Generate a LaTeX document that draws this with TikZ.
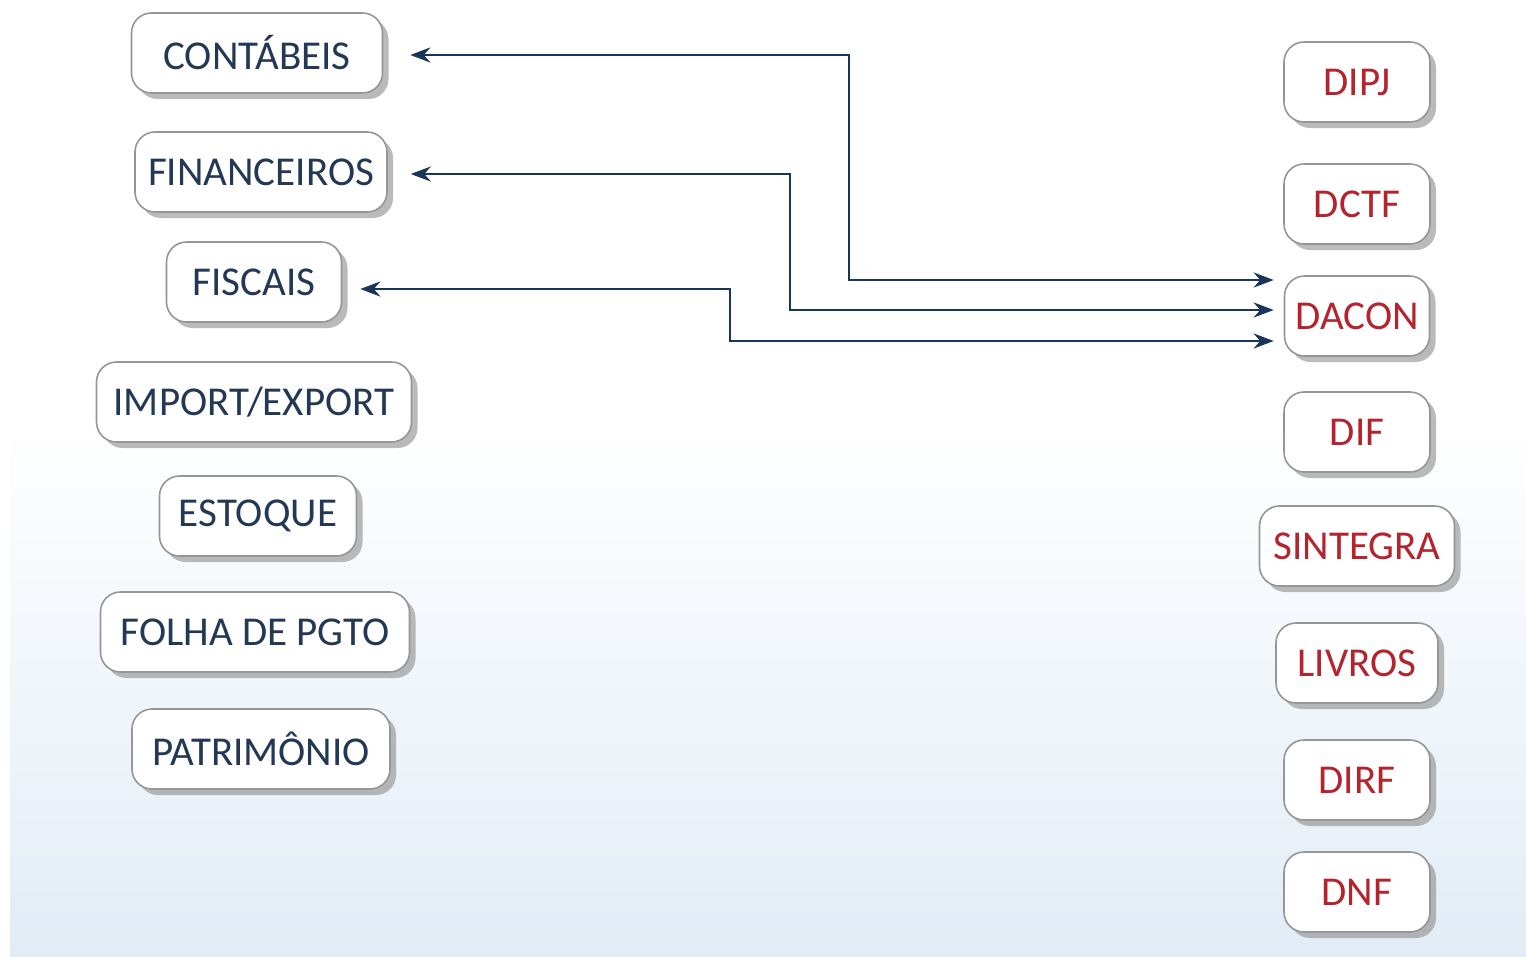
\documentclass[tikz,border=0pt]{standalone}
\usepackage{fontspec}
\setmainfont{Carlito}
\usetikzlibrary{shadows,arrows.meta}
\definecolor{navy}{RGB}{35,56,84}
\definecolor{redtxt}{RGB}{180,36,46}
\definecolor{boxline}{RGB}{150,150,150}
\definecolor{arrowc}{RGB}{24,54,90}
\definecolor{bgblue}{RGB}{226,236,246}
\tikzset{
  box/.style={draw=boxline, line width=1.6pt, fill=white, rounded corners=20pt,
    minimum height=80pt, inner xsep=4pt, font=\fontsize{41}{45}\selectfont,
    drop shadow={shadow xshift=6pt, shadow yshift=-6pt, fill=black!45, opacity=0.6}},
  lbox/.style={box, text=navy},
  rbox/.style={box, text=redtxt},
  conn/.style={draw=arrowc, line width=2.8pt, {Stealth[length=20pt,width=15pt]}-{Stealth[length=20pt,width=15pt]}}
}
\begin{document}
\begin{tikzpicture}[x=1pt,y=-1pt]
\useasboundingbox (0,0) rectangle (1526,956);
\fill[white] (0,0) rectangle (1526,956);
\shade[top color=white, bottom color=bgblue] (10,420) rectangle (1526,956);
% left column
\node[lbox, minimum width=251pt] (con) at (257,53) {CONTÁBEIS};
\node[lbox, minimum width=252pt] (fin) at (261,172) {FINANCEIROS};
\node[lbox, minimum width=175pt] (fis) at (254,282) {FISCAIS};
\node[lbox, minimum width=315pt] (imp) at (254,402) {IMPORT/EXPORT};
\node[lbox, minimum width=197pt] (est) at (258,516) {ESTOQUE};
\node[lbox, minimum width=309pt] (fol) at (255,632) {FOLHA DE PGTO};
\node[lbox, minimum width=258pt] (pat) at (261,749) {PATRIMÔNIO};
% right column
\node[rbox, minimum width=146pt] (dipj) at (1357,82) {DIPJ};
\node[rbox, minimum width=146pt] (dctf) at (1357,204) {DCTF};
\node[rbox, minimum width=145pt] (dac) at (1357,316) {DACON};
\node[rbox, minimum width=146pt] (dif) at (1357,432) {DIF};
\node[rbox, minimum width=195pt] (sin) at (1357,546) {SINTEGRA};
\node[rbox, minimum width=162pt] (liv) at (1357,663) {LIVROS};
\node[rbox, minimum width=146pt] (dirf) at (1357,780) {DIRF};
\node[rbox, minimum width=146pt] (dnf) at (1357,892) {DNF};
% connector corners
\coordinate (k1) at (849,280);
\coordinate (k2) at (790,310);
\coordinate (k3) at (730,341);
\draw[conn] ([xshift=27pt,yshift=-2pt]con.east) -| (k1) -- ([xshift=-10pt]dac.west |- k1);
\draw[conn] ([xshift=23pt,yshift=-2pt]fin.east) -| (k2) -- ([xshift=-10pt]dac.west |- k2);
\draw[conn] ([xshift=18pt,yshift=-7pt]fis.east) -| (k3) -- ([xshift=-10pt]dac.west |- k3);
\end{tikzpicture}
\end{document}
